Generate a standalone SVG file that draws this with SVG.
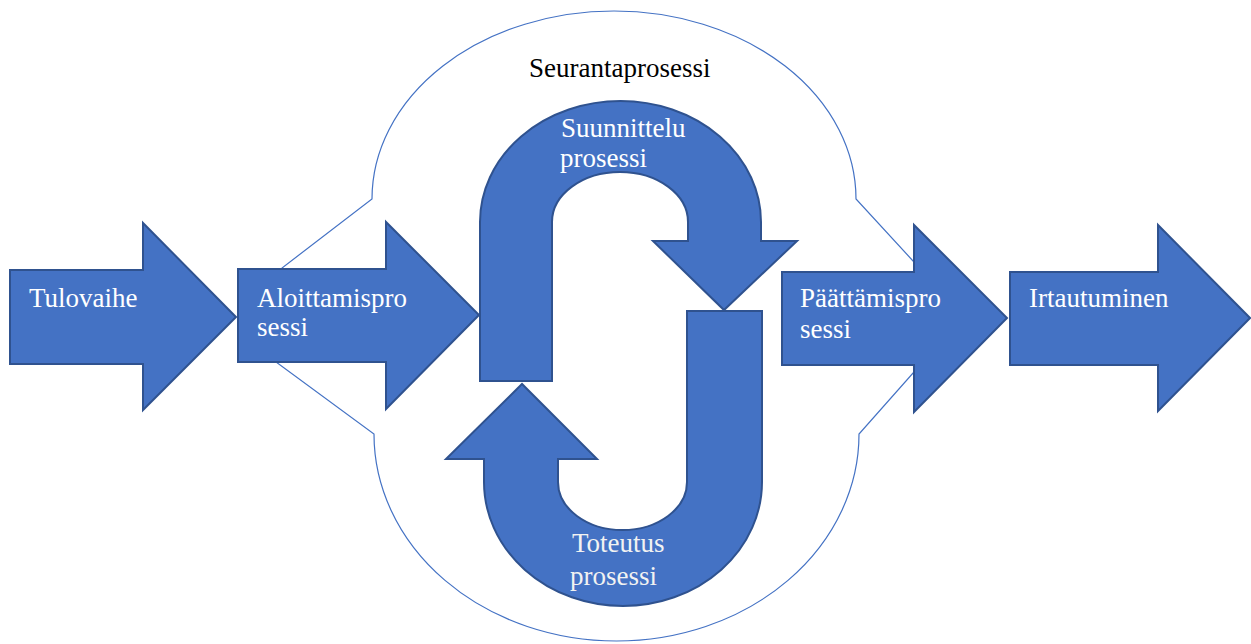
<svg xmlns="http://www.w3.org/2000/svg" width="1251" height="644" viewBox="0 0 1251 644">
<rect width="1251" height="644" fill="#FFFFFF"/>
<g id="seurantaprosessi">
<path fill="#FFFFFF" stroke="#4472C4" stroke-width="1.2" d="M372,199 A242,188 0 0 1 856,199 L914,262 L914,372 L859,434 A242.5,207 0 0 1 374,434 L276,362 L282,268 Z"/>
<text x="529" y="77" font-family="Liberation Serif" font-size="27" fill="#000000">Seurantaprosessi</text>
</g>
<g id="connectors"></g>
<g id="tulovaihe">
<path fill="#4472C4" stroke="#2F528F" stroke-width="2" d="M10,270 L143,270 L143,223 L236,317 L143,410 L143,364 L10,364 Z"/>
<text x="29" y="307" font-family="Liberation Serif" font-size="27" fill="#FFFFFF">Tulovaihe</text>
</g>
<g id="aloittamisprosessi">
<path fill="#4472C4" stroke="#2F528F" stroke-width="2" d="M238,269 L386,269 L386,222 L479,315 L386,409 L386,362 L238,362 Z"/>
<text x="257" y="307" font-family="Liberation Serif" font-size="27" fill="#FFFFFF">Aloittamispro</text>
<text x="257" y="336" font-family="Liberation Serif" font-size="27" fill="#FFFFFF">sessi</text>
</g>
<g id="suunnitteluprosessi">
<path fill="#4472C4" stroke="#2F528F" stroke-width="2" d="M480,381 L480,222 A140.5,121 0 0 1 761,222 L761,241 L797,241 L724,310 L653,241 L688,241 L688,222 A68,50 0 0 0 552,222 L552,381 Z"/>
<text x="561" y="137" font-family="Liberation Serif" font-size="27" fill="#FFFFFF">Suunnittelu</text>
<text x="560" y="167" font-family="Liberation Serif" font-size="27" fill="#FFFFFF">prosessi</text>
</g>
<g id="toteutusprosessi">
<path fill="#4472C4" stroke="#2F528F" stroke-width="2" d="M762,311 L762,482 A139,124 0 0 1 484,482 L484,459 L446,459 L522,384 L597,459 L558,459 L558,482 A64.5,48 0 0 0 687,482 L687,311 Z"/>
<text x="572" y="552" font-family="Liberation Serif" font-size="27" fill="#F2F2F2">Toteutus</text>
<text x="570" y="585" font-family="Liberation Serif" font-size="27" fill="#F2F2F2">prosessi</text>
</g>
<g id="paattamisprosessi">
<path fill="#4472C4" stroke="#2F528F" stroke-width="2" d="M782,272 L914,272 L914,225 L1007,318 L914,412 L914,365 L782,365 Z"/>
<text x="800" y="307" font-family="Liberation Serif" font-size="27" fill="#FFFFFF">Päättämispro</text>
<text x="800" y="338" font-family="Liberation Serif" font-size="27" fill="#FFFFFF">sessi</text>
</g>
<g id="irtautuminen">
<path fill="#4472C4" stroke="#2F528F" stroke-width="2" d="M1010,272 L1158,272 L1158,225 L1250,318 L1158,411 L1158,365 L1010,365 Z"/>
<text x="1029" y="307" font-family="Liberation Serif" font-size="27" fill="#FFFFFF">Irtautuminen</text>
</g>
</svg>
